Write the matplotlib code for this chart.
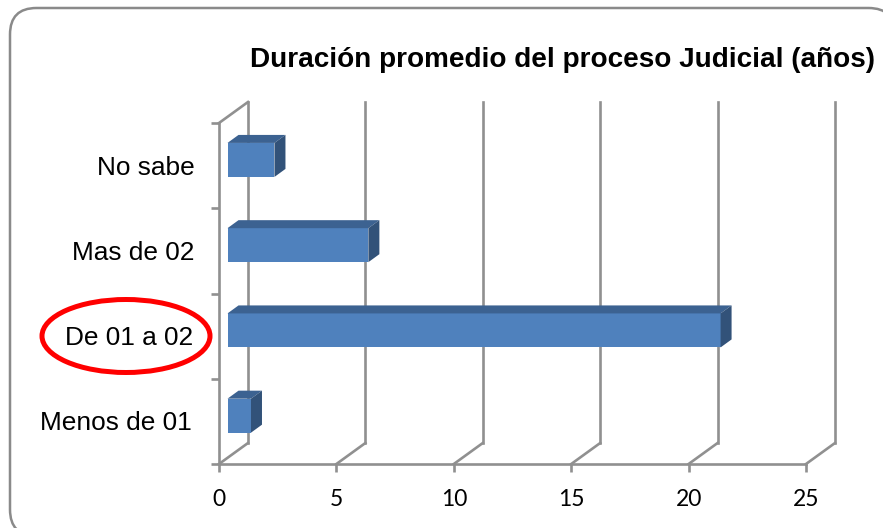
import matplotlib
matplotlib.use("Agg")
import matplotlib.pyplot as plt
from matplotlib.patches import Ellipse, FancyBboxPatch, Polygon

categories = ["Menos de 01", "De 01 a 02", "Mas de 02", "No sabe"]
values = [1, 21, 6, 2]
x_ticks = [0, 5, 10, 15, 20, 25]

W, H = 883, 528
GRAY = "#909090"
LW = 1.9
# depth of the fake 3d box, in pixels
WALL_DX, WALL_DY = 29, 21
BAR_DX, BAR_DY = 11, 8


def fig_x(px):
    return px / W


def fig_y(px):
    return 1 - px / H


fig = plt.figure(figsize=(W / 100, H / 100), dpi=100)

# rounded frame around the chart, runs off the right and bottom edges
frame = FancyBboxPatch((fig_x(10), fig_y(536)), 885 / W, 528 / H,
                       boxstyle="round,pad=0,rounding_size=0.03",
                       mutation_aspect=W / H, transform=fig.transFigure,
                       fc="white", ec="#8a8a8a", lw=1.8, zorder=-1)
fig.add_artist(frame)

# axes is the front plane of the 3d box
ax = fig.add_axes([fig_x(219), fig_y(464), 587 / W, 341 / H])
ax.set_xlim(0, 25)
ax.set_ylim(-0.5, 3.5)
ax.patch.set_visible(False)
for side in ["top", "right"]:
    ax.spines[side].set_visible(False)
for side in ["left", "bottom"]:
    ax.spines[side].set_color(GRAY)
    ax.spines[side].set_linewidth(LW)

px_x = 25 / 587
px_y = 4 / 341

# back wall gridlines and the diagonals on the floor
for t in x_ticks:
    xb = t + WALL_DX * px_x
    ax.plot([t, xb], [-0.5, -0.5 + WALL_DY * px_y], color=GRAY, lw=LW, clip_on=False)
    ax.plot([xb, xb], [-0.5 + WALL_DY * px_y, 3.5 + WALL_DY * px_y], color=GRAY, lw=LW, clip_on=False)
ax.plot([0, WALL_DX * px_x], [3.5, 3.5 + WALL_DY * px_y], color=GRAY, lw=LW, clip_on=False)

# bars, front face then top and side faces
left = 8.5 * px_x
height = 34 * px_y
shift = 5.7 * px_y
dx = BAR_DX * px_x
dy = BAR_DY * px_y
for i, v in enumerate(values):
    y0 = i + shift - height / 2
    y1 = y0 + height
    x1 = left + v
    ax.barh(i + shift, v, height=height, left=left, color="#4f81bd", zorder=3)
    ax.add_patch(Polygon([(left, y1), (x1, y1), (x1 + dx, y1 + dy), (left + dx, y1 + dy)],
                         fc="#3c6291", ec="none", zorder=3))
    ax.add_patch(Polygon([(x1, y0), (x1, y1), (x1 + dx, y1 + dy), (x1 + dx, y0 + dy)],
                         fc="#325279", ec="none", zorder=3))

ax.set_xticks(x_ticks)
ax.set_yticks([-0.5, 0.5, 1.5, 2.5, 3.5])
ax.set_yticklabels([])
ax.tick_params(axis="both", color=GRAY, width=LW, length=6)
ax.tick_params(axis="x", pad=12, labelsize=16.5)
for lab in ax.get_xticklabels():
    lab.set_family("Lato")

# category labels sit beside the axis, not quite flush in the original
label_gap = [-27, -26, -24, -24]
for i, name in enumerate(categories):
    ax.annotate(name, xy=(0, i), xycoords="data", xytext=(label_gap[i], -2), textcoords="offset pixels",
                ha="right", va="center", family="Liberation Sans", fontsize=18.9)

fig.text(fig_x(563), fig_y(60), "Duración promedio del proceso Judicial (años)", ha="center", va="center",
         family="Liberation Sans", fontweight="bold", fontsize=20.1)

# red highlight around the category
fig.add_artist(Ellipse((fig_x(126), fig_y(336)), 168 / W, 73 / H, transform=fig.transFigure,
                       fc="none", ec="#ff0000", lw=3.6))

fig.savefig("out.png", dpi=100)
